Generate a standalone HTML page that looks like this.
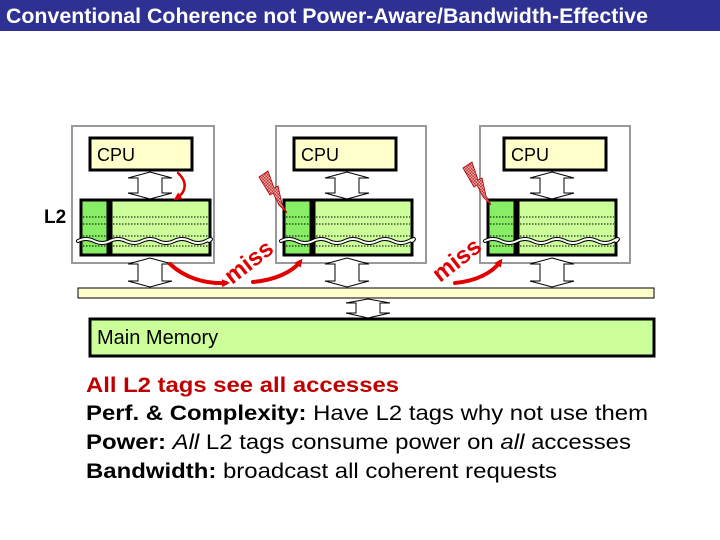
<!DOCTYPE html>
<html><head><meta charset="utf-8"><style>
html,body{margin:0;padding:0;background:#fff;}
svg{display:block;}
</style></head><body>
<svg width="720" height="540" viewBox="0 0 720 540" xmlns="http://www.w3.org/2000/svg" font-family="Liberation Sans, sans-serif">
<defs>
<pattern id="chk" width="3" height="3" patternUnits="userSpaceOnUse"><rect width="3" height="3" fill="#f0b0b0"/><rect width="1.5" height="1.5" fill="#c03030"/><rect x="1.5" y="1.5" width="1.5" height="1.5" fill="#c03030"/></pattern>
<marker id="ah" markerWidth="8" markerHeight="8" refX="4" refY="4" orient="auto" markerUnits="userSpaceOnUse" viewBox="0 0 8 8"><path d="M0,0 L8,4 L0,8 z" fill="#e00000"/></marker>
</defs>
<rect x="0" y="0" width="720" height="31" fill="#2e3192"/>
<text x="6" y="23" fill="#fff" font-size="21" font-weight="bold" textLength="642" lengthAdjust="spacingAndGlyphs">Conventional Coherence not  Power-Aware/Bandwidth-Effective</text>

<rect x="72" y="126" width="142" height="137" fill="#fff" stroke="#999" stroke-width="2"/>
<rect x="276" y="126" width="150" height="137" fill="#fff" stroke="#999" stroke-width="2"/>
<rect x="480" y="126" width="150" height="137" fill="#fff" stroke="#999" stroke-width="2"/>

<g stroke="#000" stroke-width="3" fill="#ffffcc">
<rect x="90" y="138" width="102" height="32"/>
<rect x="294" y="138" width="102" height="32"/>
<rect x="504" y="138" width="102" height="32"/>
</g>
<g font-size="18" fill="#000">
<text x="97" y="161">CPU</text>
<text x="301" y="161">CPU</text>
<text x="511" y="161">CPU</text>
</g>

<rect x="81" y="200" width="27" height="55" fill="#88ee66" stroke="#000" stroke-width="3"/>
<rect x="111" y="200" width="99" height="55" fill="#ccff99" stroke="#000" stroke-width="3"/>
<rect x="284" y="200" width="27" height="55" fill="#88ee66" stroke="#000" stroke-width="3"/>
<rect x="314" y="200" width="98" height="55" fill="#ccff99" stroke="#000" stroke-width="3"/>
<rect x="488" y="200" width="27" height="55" fill="#88ee66" stroke="#000" stroke-width="3"/>
<rect x="518" y="200" width="98" height="55" fill="#ccff99" stroke="#000" stroke-width="3"/>
<g stroke="#000" stroke-width="1" stroke-dasharray="1.5,1.5">
<path d="M83 217H106M113 217H208M83 224H106M113 224H208M83 236H106M113 236H208M83 246H106M113 246H208"/>
<path d="M286 217H309M316 217H410M286 224H309M316 224H410M286 236H309M316 236H410M286 246H309M316 246H410"/>
<path d="M490 217H513M520 217H614M490 224H513M520 224H614M490 236H513M520 236H614M490 246H513M520 246H614"/>
</g>
<g fill="none" stroke-linecap="round">
<path d="M78 241 q8 -4 16 0 t16 0 t16 0 t16 0 t16 0 t16 0 t16 0 t16 0 t3 0" stroke="#000" stroke-width="4"/>
<path d="M78 241 q8 -4 16 0 t16 0 t16 0 t16 0 t16 0 t16 0 t16 0 t16 0 t3 0" stroke="#fff" stroke-width="2"/>
<path d="M281 241 q8 -4 16 0 t16 0 t16 0 t16 0 t16 0 t16 0 t16 0 t16 0 t3 0" stroke="#000" stroke-width="4"/>
<path d="M281 241 q8 -4 16 0 t16 0 t16 0 t16 0 t16 0 t16 0 t16 0 t16 0 t3 0" stroke="#fff" stroke-width="2"/>
<path d="M485 241 q8 -4 16 0 t16 0 t16 0 t16 0 t16 0 t16 0 t16 0 t16 0 t3 0" stroke="#000" stroke-width="4"/>
<path d="M485 241 q8 -4 16 0 t16 0 t16 0 t16 0 t16 0 t16 0 t16 0 t16 0 t3 0" stroke="#fff" stroke-width="2"/>
</g>
<text x="44" y="223" font-size="19" font-weight="bold">L2</text>

<g fill="#fff" stroke="#000" stroke-width="1">
<path d="M150 172 L172 178 L162 178 L162 193 L172 193 L150 199 L128 193 L138 193 L138 178 L128 178 Z"/>
<path d="M150 258 L172 264 L162 264 L162 281 L172 281 L150 287 L128 281 L138 281 L138 264 L128 264 Z"/>
<path d="M347 172 L369 178 L359 178 L359 193 L369 193 L347 199 L325 193 L335 193 L335 178 L325 178 Z"/>
<path d="M347 258 L369 264 L359 264 L359 281 L369 281 L347 287 L325 281 L335 281 L335 264 L325 264 Z"/>
<path d="M552 172 L574 178 L564 178 L564 193 L574 193 L552 199 L530 193 L540 193 L540 178 L530 178 Z"/>
<path d="M552 258 L574 264 L564 264 L564 281 L574 281 L552 287 L530 281 L540 281 L540 264 L530 264 Z"/>
<path d="M368 299 L390 303 L380 303 L380 313 L390 313 L368 318 L346 313 L356 313 L356 303 L346 303 Z"/>
</g>

<rect x="78" y="288" width="576" height="10" fill="#ffffcc" stroke="#000" stroke-width="1"/>
<rect x="90" y="319" width="564" height="37" fill="#ccff99" stroke="#000" stroke-width="3"/>
<text x="97" y="344" font-size="20">Main Memory</text>

<path d="M259 177 L268 171 L274 188 L278 186 L282 204 L287 213 L279 205 L273 193 L270 195 Z" fill="url(#chk)" stroke="#a00" stroke-width="0.8"/>
<path d="M463 168 L472 162 L478 180 L482 178 L486 196 L491 205 L483 197 L477 185 L474 187 Z" fill="url(#chk)" stroke="#a00" stroke-width="0.8"/>

<g fill="none" stroke="#e00000" stroke-width="4" stroke-linecap="round">
<path d="M178 173 C188 182 186 192 177 198" stroke-width="2.5" marker-end="url(#ah)"/>
<path d="M170 264 C185 278 205 284 226 283" marker-end="url(#ah)"/>
<path d="M253 282 C275 280 292 272 300 262" marker-end="url(#ah)"/>
<path d="M455 283 C476 281 492 273 500 262" marker-end="url(#ah)"/>
</g>
<g fill="#e00000" font-size="24" font-weight="bold">
<text x="0" y="0" transform="translate(232,285) rotate(-38)">miss</text>
<text x="0" y="0" transform="translate(440,283) rotate(-38)">miss</text>
</g>

<g font-size="21">
<text x="86" y="392" fill="#c00000" font-weight="bold" textLength="313" lengthAdjust="spacingAndGlyphs">All L2 tags see all accesses</text>
<text x="86" y="420" textLength="562" lengthAdjust="spacingAndGlyphs"><tspan font-weight="bold">Perf. &amp; Complexity:</tspan> Have L2 tags why not use them</text>
<text x="86" y="449" textLength="545" lengthAdjust="spacingAndGlyphs"><tspan font-weight="bold">Power:</tspan> <tspan font-style="italic">All</tspan> L2 tags consume power on <tspan font-style="italic">all</tspan> accesses</text>
<text x="86" y="478" textLength="471" lengthAdjust="spacingAndGlyphs"><tspan font-weight="bold">Bandwidth:</tspan> broadcast all coherent requests</text>
</g>
</svg>
</body></html>
